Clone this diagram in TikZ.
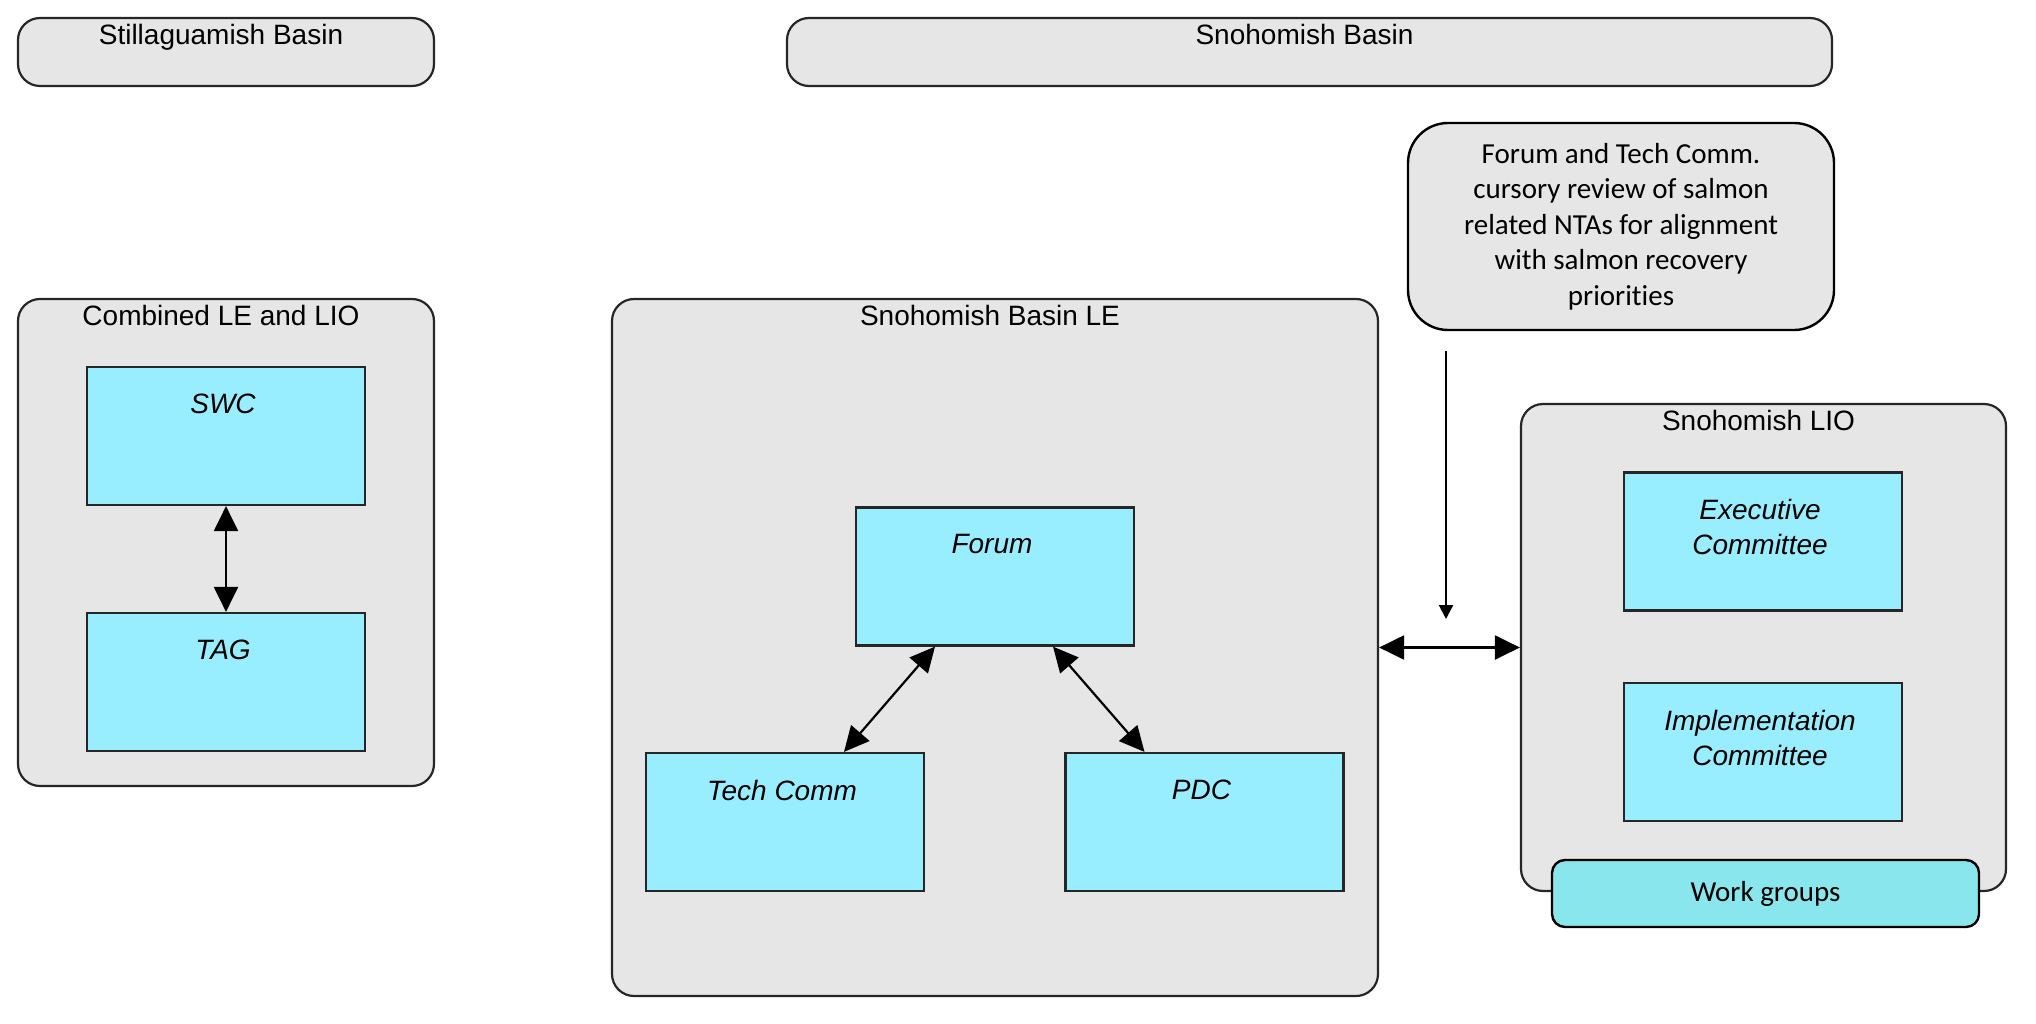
\documentclass[tikz,border=0pt]{standalone}
\usepackage{fontspec}
\setmainfont{Liberation Sans}
\newfontfamily\calibri[Ligatures=NoCommon]{Carlito}
\usepackage{xcolor}
\usetikzlibrary{arrows.meta,positioning}

\definecolor{basingray}{RGB}{230,230,230}
\definecolor{unitcyan}{RGB}{152,238,254}
\definecolor{groupcyan}{RGB}{137,230,236}

\begin{document}
\begin{tikzpicture}[x=1pt,y=-1pt,
  basin/.style={draw=black!85, line width=2.2pt, fill=basingray, rounded corners=22pt, inner sep=0pt,
    label={[anchor=north, xshift=-5pt, yshift=-7pt, inner sep=0pt, font=\fontsize{28}{34}\selectfont]north:#1}},
  unit/.style={draw=black!85, line width=2.2pt, fill=unitcyan, minimum width=278pt, minimum height=138pt, inner sep=0pt,
    label={[anchor=north, xshift=-3pt, yshift=-28pt, inner sep=0pt, align=center, font=\fontsize{28}{35}\selectfont\itshape]north:#1}},
  link/.style={{Triangle[length=25pt,width=24pt]}-{Triangle[length=25pt,width=24pt]}, line width=2.2pt}]
\useasboundingbox (0,0) rectangle (2036,1024);

% Basin headers
\node[basin=Stillaguamish Basin, minimum width=416pt, minimum height=68pt] (stilla) at (226,52) {};
\node[basin=Snohomish Basin, minimum width=1045pt, minimum height=68pt] (snobasin) at (1309.5,52) {};

% Review note
\node[draw=black, line width=2.4pt, fill=basingray, rounded corners=40pt, minimum width=426pt, minimum height=207pt,
  align=center, font=\calibri\fontsize{29}{35.4}\selectfont] (note) at (1621,226.5)
  {Forum and Tech Comm.\\cursory review of salmon\\related NTAs for alignment\\with salmon recovery\\priorities};

% Stillaguamish: combined LE and LIO
\node[basin=Combined LE and LIO, minimum width=416pt, minimum height=487pt] (combined) at (226,542.5) {};
\node[unit=SWC] (swc) at (226,436) {};
\node[unit=TAG] (tag) at (226,682) {};
\draw[link] (swc) -- (tag);

% Snohomish LE
\node[basin=Snohomish Basin LE, minimum width=766pt, minimum height=697pt] (le) at (995,647.5) {};
\node[unit=Forum] (forum) at (995,576.5) {};
\node[unit=Tech Comm] (tech) at (785,822) {};
\node[unit=PDC] (pdc) at (1204.5,822) {};
\draw[link] ([xshift=-60pt]forum.south) -- ([xshift=59pt]tech.north);
\draw[link] ([xshift=58pt]forum.south) -- ([xshift=-60pt]pdc.north);

% Snohomish LIO
\node[basin=Snohomish LIO, minimum width=485pt, minimum height=487pt] (lio) at (1763.5,647.5) {};
\node[unit={Executive\\Committee}] (exec) at (1763,541.5) {};
\node[unit={Implementation\\Committee}] (impl) at (1763,752) {};
\node[draw=black, line width=2.4pt, fill=groupcyan, rounded corners=13pt, minimum width=427pt, minimum height=67pt,
  font=\calibri\fontsize{29}{35}\selectfont] (work) at (1765.5,893.5) {Work groups};

% LE <-> LIO and review input
\draw[link] (le) -- (lio);
\coordinate (noteTail) at (1446,351);
\coordinate (noteTip) at (1446,619);
\draw[line width=2.2pt, -{Triangle[length=14pt,width=14pt]}] (noteTail) -- (noteTip);

\end{tikzpicture}
\end{document}
